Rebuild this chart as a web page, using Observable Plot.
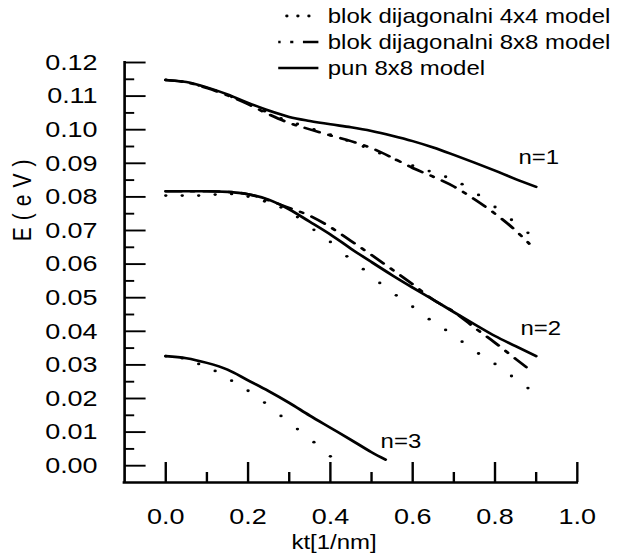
<!DOCTYPE html>
<html>
<head>
<meta charset="utf-8">
<script src="https://cdn.jsdelivr.net/npm/d3@7"></script>
<script src="https://cdn.jsdelivr.net/npm/@observablehq/plot@0.6"></script>
<style>
html,body{margin:0;padding:0;background:#fff;}
#chart{width:644px;height:557px;overflow:hidden;}
</style>
</head>
<body>
<div id="chart"></div>
<script>
// ---------- data ----------
const modelNames = ["blok dijagonalni 4x4 model", "blok dijagonalni 8x8 model", "pun 8x8 model"];

// full 8x8 model (solid)
const ktFull_n1 = [0,0.05,0.1,0.15,0.2,0.25,0.3,0.35,0.4,0.45,0.5,0.55,0.6,0.65,0.7,0.75,0.8,0.85,0.9];
const EFull_n1  = [0.1148,0.1142,0.1126,0.1105,0.1080,0.1057,0.1038,0.1026,0.1016,0.1007,0.0996,0.0982,0.0966,0.0947,0.0925,0.0902,0.0878,0.0853,0.0830];
const ktFull_n2 = [0,0.05,0.1,0.15,0.2,0.25,0.3,0.35,0.4,0.45,0.5,0.55,0.6,0.65,0.7,0.75,0.8,0.85,0.9];
const EFull_n2  = [0.0817,0.0817,0.0817,0.0815,0.0808,0.0792,0.0763,0.0726,0.0688,0.0646,0.0606,0.0567,0.0530,0.0494,0.0457,0.0421,0.0386,0.0356,0.0326];
const ktFull_n3 = [0,0.05,0.1,0.15,0.2,0.25,0.3,0.35,0.4,0.45,0.5,0.534];
const EFull_n3  = [0.0326,0.0320,0.0306,0.0286,0.0254,0.0222,0.0187,0.0149,0.0113,0.0077,0.0040,0.0018];

// block diagonal 8x8 model (dash-dot)
const ktB8_n1 = [0,0.05,0.1,0.15,0.2,0.25,0.3,0.35,0.4,0.45,0.5,0.55,0.6,0.65,0.7,0.75,0.8,0.85,0.883];
const EB8_n1  = [0.1148,0.1141,0.1124,0.1102,0.1076,0.1046,0.1020,0.1001,0.0983,0.0966,0.0945,0.0917,0.0886,0.0860,0.0831,0.0793,0.0750,0.0700,0.0661];
const ktB8_n2 = [0,0.05,0.1,0.15,0.2,0.25,0.3,0.35,0.4,0.45,0.5,0.55,0.6,0.65,0.7,0.75,0.8,0.85,0.882];
const EB8_n2  = [0.0817,0.0817,0.0817,0.0815,0.0808,0.0790,0.0767,0.0744,0.0710,0.0669,0.0627,0.0584,0.0540,0.0494,0.0458,0.0411,0.0366,0.0318,0.0288];

// block diagonal 4x4 model (dots)
const ktB4_n1 = [0,0.04,0.08,0.12,0.16,0.2,0.24,0.28,0.32,0.36,0.4,0.44,0.48,0.52,0.56,0.6,0.64,0.68,0.72,0.76,0.8,0.84,0.88];
const EB4_n1  = [0.1148,0.1143,0.1132,0.1117,0.1098,0.1077,0.1055,0.1034,0.1017,0.1001,0.0985,0.0968,0.0950,0.0930,0.0910,0.0893,0.0877,0.0860,0.0838,0.0806,0.0770,0.0732,0.0693];
const ktB4_n2 = [0,0.04,0.08,0.12,0.16,0.2,0.24,0.28,0.32,0.36,0.4,0.44,0.48,0.52,0.56,0.6,0.64,0.68,0.72,0.76,0.8,0.84,0.88];
const EB4_n2  = [0.0804,0.0804,0.0804,0.0807,0.0809,0.0801,0.0787,0.0769,0.0740,0.0702,0.0666,0.0623,0.0585,0.0544,0.0507,0.0473,0.0436,0.0404,0.0369,0.0334,0.0303,0.0267,0.0231];
const ktB4_n3 = [0,0.04,0.08,0.12,0.16,0.2,0.24,0.28,0.32,0.36,0.4];
const EB4_n3  = [0.0326,0.0320,0.0303,0.0282,0.0253,0.0223,0.0188,0.0148,0.0109,0.0070,0.0028];

// ticks and labels
const xMajorTicks = [0,0.2,0.4,0.6,0.8,1.0];
const xMinorTicks = [0.1,0.3,0.5,0.7,0.9];
const yMajorTicks = [0,0.01,0.02,0.03,0.04,0.05,0.06,0.07,0.08,0.09,0.10,0.11,0.12];
const yMinorTicks = [0.005,0.015,0.025,0.035,0.045,0.055,0.065,0.075,0.085,0.095,0.105,0.115];
const xDomain = [-0.1, 1.0];
const yDomain = [-0.005, 0.12];
const xLabel = "kt[1/nm]";
const yLabel = "E(eV)";
const stateLabels = [
  {text: "n=1", kt: 0.857, E: 0.0918},
  {text: "n=2", kt: 0.862, E: 0.0408},
  {text: "n=3", kt: 0.522, E: 0.0072}
];

// ---------- layout ----------
const OUT_W = 644, H = 557;
const W = 537;                 // internal width, stretched horizontally to 644
const mL = 103.4, mR = 56.1, mT = 62, mB = 75;
const frameW = W - mL - mR, frameH = H - mT - mB;
const FONT = "'Liberation Sans', Arial, Helvetica, sans-serif";

function series(kt, E, n) { return kt.map((k, i) => ({kt: k, E: E[i], n})); }
const fullRows = [...series(ktFull_n1, EFull_n1, 1), ...series(ktFull_n2, EFull_n2, 2), ...series(ktFull_n3, EFull_n3, 3)];
const b8Rows = [...series(ktB8_n1, EB8_n1, 1), ...series(ktB8_n2, EB8_n2, 2)];
const b4Rows = [...series(ktB4_n1, EB4_n1, 1), ...series(ktB4_n2, EB4_n2, 2), ...series(ktB4_n3, EB4_n3, 3)];

const DASHDOT = "13,8,2.6,8";

const chart = Plot.plot({
  width: W, height: H,
  marginLeft: mL, marginRight: mR, marginTop: mT, marginBottom: mB,
  x: {domain: xDomain},
  y: {domain: yDomain},
  style: {fontFamily: FONT, fontSize: "20px", background: "#fff", color: "#000", overflow: "visible"},
  marks: [
    // axis lines
    Plot.ruleX([xDomain[0]], {stroke: "#000", strokeWidth: 2.2, strokeLinecap: "square"}),
    Plot.ruleY([yDomain[0]], {stroke: "#000", strokeWidth: 2.3, strokeLinecap: "square"}),
    // inward ticks
    Plot.tickX(xMajorTicks, {x: d => d, stroke: "#000", strokeWidth: 2, insetTop: frameH - 20}),
    Plot.tickX(xMinorTicks, {x: d => d, stroke: "#000", strokeWidth: 2, insetTop: frameH - 10}),
    Plot.tickY(yMajorTicks, {y: d => d, stroke: "#000", strokeWidth: 1.9, insetRight: frameW - 18}),
    Plot.tickY(yMinorTicks, {y: d => d, stroke: "#000", strokeWidth: 1.9, insetRight: frameW - 8.5}),
    // tick labels
    Plot.axisX(xMajorTicks, {tickSize: 0, tickPadding: 26, tickFormat: d3.format(".1f"), fontSize: 22.5, label: null, stroke: null}),
    Plot.axisY(yMajorTicks, {tickSize: 0, tickPadding: 22.5, tickFormat: d3.format(".2f"), fontSize: 22.5, label: null, stroke: null}),
    // curves
    Plot.line(fullRows, {x: "kt", y: "E", z: "n", stroke: "#000", strokeWidth: 2.6, curve: "monotone-x"}),
    Plot.line(b8Rows, {x: "kt", y: "E", z: "n", stroke: "#000", strokeWidth: 2.6, curve: "monotone-x", strokeDasharray: DASHDOT}),
    Plot.dot(b4Rows, {x: "kt", y: "E", r: 1.4, fill: "#000", stroke: null}),
    // state labels
    Plot.text(stateLabels, {x: "kt", y: "E", text: "text", textAnchor: "start", lineAnchor: "middle", fontSize: 20, fill: "#000"}),
    // axis titles
    Plot.text([xLabel], {x: () => 0.409, frameAnchor: "bottom", lineAnchor: "bottom", dy: 66, fontSize: 20, fill: "#000"}),
    Plot.text([yLabel], {y: () => 0.0668, frameAnchor: "left", dx: 18.3 - mL, rotate: -90, lineAnchor: "middle", fontSize: 21, fill: "#000"})
  ]
});

// stretch horizontally like the reference
chart.setAttribute("width", OUT_W);
chart.setAttribute("height", H);
chart.setAttribute("preserveAspectRatio", "none");
chart.style.width = OUT_W + "px";
chart.style.height = H + "px";
chart.style.maxWidth = "none";

// letter spacing of the y title
d3.select(chart).selectAll("text").filter(function () { return this.textContent === yLabel; })
  .style("letter-spacing", "7px");

// legend
const legendX0 = 232, legendX1 = 265.5, legendTextX = 273.3;
const legendRowsY = [16, 42, 68];
const lg = d3.select(chart).append("g").attr("class", "legend").attr("text-anchor", "start");
modelNames.forEach((name, i) => {
  const y = legendRowsY[i];
  if (i === 0) {
    [239.2, 248.4, 257.6].forEach(cx => lg.append("circle").attr("cx", cx).attr("cy", y).attr("r", 1.4).attr("fill", "#000"));
  } else {
    const p = lg.append("path").attr("d", `M${legendX0},${y}H${legendX1}`)
      .attr("stroke", "#000").attr("stroke-width", 2.6).attr("fill", "none");
    if (i === 1) p.attr("stroke-dasharray", DASHDOT).attr("stroke-dashoffset", 11);
  }
  lg.append("text").attr("x", legendTextX).attr("y", y + 7.3).attr("text-anchor", "start")
    .attr("font-family", FONT).attr("font-size", 20).attr("fill", "#000").text(name);
});

document.getElementById("chart").appendChild(chart);
</script>
</body>
</html>
